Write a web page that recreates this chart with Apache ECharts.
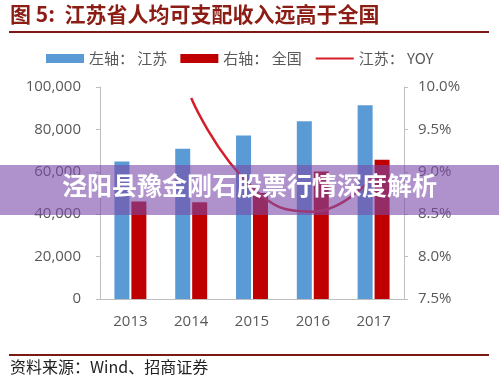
<!DOCTYPE html>
<html>
<head>
<meta charset="utf-8">
<script src="https://cdn.jsdelivr.net/npm/echarts@6/dist/echarts.min.js"></script>
<style>html,body{margin:0;padding:0;background:#fff;}#c{width:499px;height:385px;}</style>
</head>
<body>
<div id="c"></div>
<script>
var years = ['2013', '2014', '2015', '2016', '2017'];
var jiangsu = [64800, 70900, 77100, 83800, 91400];
var national = [46000, 45600, 50000, 60100, 65700];
var jiangsuYoy = [null, 9.87, 8.82, 8.53, 8.95];
var leftTicks = [0, 20000, 40000, 60000, 80000, 100000];
var rightTicks = [7.5, 8.0, 8.5, 9.0, 9.5, 10.0];
var seriesNames = ['左轴： 江苏', '右轴： 全国', '江苏： YOY'];

var chart = echarts.init(document.getElementById('c'), null, {renderer: 'canvas'});
var axisGray = '#595959';
var cjk = '"Noto Sans CJK SC", sans-serif';
var latin = '"Open Sans", "Liberation Sans", sans-serif';

chart.setOption({
  backgroundColor: '#ffffff',
  animation: false,
  grid: {left: 100, right: 95, top: 87, bottom: 86},
  legend: {
    top: 46, left: 41,
    itemGap: 13,
    itemWidth: 38, itemHeight: 9,
    textStyle: {color: '#595959', fontSize: 15, fontFamily: cjk},
    data: [
      {name: seriesNames[0], icon: 'rect'},
      {name: seriesNames[1], icon: 'rect'},
      {name: seriesNames[2], itemStyle: {opacity: 0}}
    ]
  },
  xAxis: {
    type: 'category',
    data: years,
    axisLine: {lineStyle: {color: '#bfbfbf', width: 1}},
    axisTick: {show: false},
    axisLabel: {color: axisGray, fontSize: 15, fontFamily: latin, margin: 15}
  },
  yAxis: [
    {
      type: 'value', min: leftTicks[0], max: leftTicks[leftTicks.length - 1], interval: 20000,
      position: 'left',
      axisLine: {show: true, lineStyle: {color: '#bfbfbf'}},
      axisTick: {show: true, length: 4, lineStyle: {color: '#bfbfbf'}},
      splitLine: {show: false},
      axisLabel: {color: axisGray, fontSize: 15, fontFamily: latin, margin: 19,
        formatter: function (v) { return v.toLocaleString('en-US'); }}
    },
    {
      type: 'value', min: rightTicks[0], max: rightTicks[rightTicks.length - 1], interval: 0.5,
      position: 'right',
      axisLine: {show: true, lineStyle: {color: '#bfbfbf'}},
      axisTick: {show: true, length: 4, lineStyle: {color: '#bfbfbf'}},
      splitLine: {show: false},
      axisLabel: {color: axisGray, fontSize: 15, fontFamily: latin, margin: 14,
        formatter: function (v) { return v.toFixed(1) + '%'; }}
    }
  ],
  series: [
    {
      name: seriesNames[0], type: 'bar', yAxisIndex: 0, data: jiangsu,
      barWidth: 15, barGap: '13%',
      itemStyle: {color: '#5b9bd5'}
    },
    {
      name: seriesNames[1], type: 'bar', yAxisIndex: 0, data: national,
      barWidth: 15, barGap: '13%',
      itemStyle: {color: '#c00000'}
    },
    {
      name: seriesNames[2], type: 'line', yAxisIndex: 1, data: jiangsuYoy,
      smooth: 0.5, showSymbol: false, symbol: 'none',
      lineStyle: {color: '#d41f2a', width: 2.5},
      itemStyle: {color: '#d41f2a'}
    }
  ],
  graphic: [
    {type: 'text', left: 10, top: 4, style: {text: '图 5:  江苏省人均可支配收入远高于全国', fill: '#8b1d14', font: 'bold 21px "Noto Sans CJK SC", sans-serif'}},
    {type: 'rect', shape: {x: 9, y: 31, width: 480, height: 2}, style: {fill: '#7a1a12'}},
    {type: 'rect', shape: {x: 9, y: 354, width: 480, height: 2}, style: {fill: '#7a1a12'}},
    {type: 'text', left: 10, top: 359, style: {text: '资料来源：Wind、招商证券', fill: '#222', font: '16px "Noto Sans CJK SC", sans-serif'}},
    {type: 'rect', z: 100, shape: {x: 0, y: 165, width: 499, height: 50}, style: {fill: 'rgba(121,74,168,0.6)'}},
    {type: 'text', z: 101, left: 'center', top: 173, style: {text: '泾阳县豫金刚石股票行情深度解析', fill: '#ffffff', font: 'bold 25px "Noto Sans CJK SC", sans-serif'}}
  ]
});
</script>
</body>
</html>
